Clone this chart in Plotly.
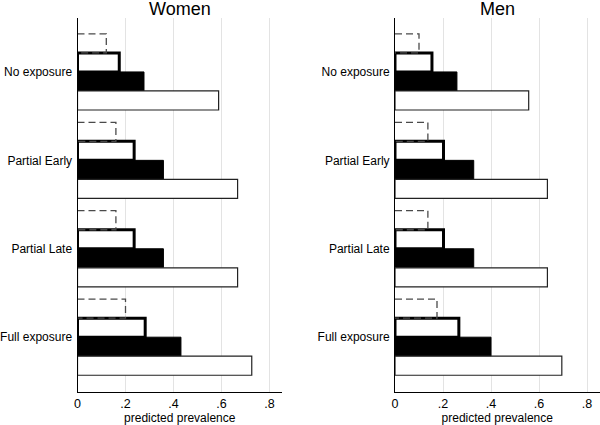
import plotly.graph_objects as go

categories = ["No exposure", "Partial Early", "Partial Late", "Full exposure"]

women_dashed = [0.12, 0.16, 0.16, 0.20]
women_thick = [0.174, 0.236, 0.236, 0.282]
women_black = [0.277, 0.358, 0.358, 0.431]
women_thin = [0.588, 0.667, 0.667, 0.726]

men_dashed = [0.10, 0.137, 0.137, 0.175]
men_thick = [0.154, 0.202, 0.202, 0.266]
men_black = [0.258, 0.328, 0.328, 0.40]
men_thin = [0.557, 0.635, 0.635, 0.695]

tick_vals = [0, 0.2, 0.4, 0.6, 0.8]
tick_text = ["0", ".2", ".4", ".6", ".8"]

FONT = "Liberation Sans, Arial, Helvetica, sans-serif"
ypos = list(range(len(categories)))
BAR_W = 0.2153
GROUP_OFF = -2 * BAR_W
X_RANGE = [0, 0.852]

fig = go.Figure()


def add_panel(dashed, thick, black, thin, xa, ya):
    # dashed outline bar (slot 0), drawn as rectangle outlines built from data
    xs, ys = [], []
    for i, v in zip(ypos, dashed):
        t = i + GROUP_OFF
        b = i + GROUP_OFF + BAR_W
        xs += [0, v, v, 0, None]
        ys += [t, t, b, b, None]
    fig.add_trace(go.Scatter(x=xs, y=ys, mode="lines", xaxis=xa, yaxis=ya,
                             line=dict(color="#4a4a4a", width=1.3, dash="7px,4px"),
                             showlegend=False, hoverinfo="skip"))
    # thick outlined white bar (slot 1)
    fig.add_trace(go.Bar(x=thick, y=ypos, orientation="h", xaxis=xa, yaxis=ya,
                         width=BAR_W, offset=GROUP_OFF + BAR_W,
                         marker=dict(color="white", line=dict(color="black", width=3)),
                         showlegend=False))
    # solid black bar (slot 2)
    fig.add_trace(go.Bar(x=black, y=ypos, orientation="h", xaxis=xa, yaxis=ya,
                         width=BAR_W, offset=GROUP_OFF + 2 * BAR_W,
                         marker=dict(color="black", line=dict(color="black", width=1)),
                         showlegend=False))
    # thin outlined white bar (slot 3)
    fig.add_trace(go.Bar(x=thin, y=ypos, orientation="h", xaxis=xa, yaxis=ya,
                         width=BAR_W, offset=GROUP_OFF + 3 * BAR_W,
                         marker=dict(color="white", line=dict(color="#222222", width=1.2)),
                         showlegend=False))


add_panel(women_dashed, women_thick, women_black, women_thin, "x", "y")
add_panel(men_dashed, men_thick, men_black, men_thin, "x2", "y2")

xcommon = dict(range=X_RANGE, tickvals=tick_vals, ticktext=tick_text,
               showgrid=True, gridcolor="#e3e3e3", gridwidth=1, zeroline=False,
               showline=True, linecolor="black", linewidth=1,
               ticks="", ticklabelstandoff=0,
               tickfont=dict(size=12.5, color="black", family=FONT),
               title=dict(text="predicted prevalence", font=dict(size=12, color="black", family=FONT),
                          standoff=4),
               automargin=False, fixedrange=True)
# tick-mark-only overlay axes
xticks_only = dict(range=X_RANGE, tickvals=tick_vals, showticklabels=False,
                   showgrid=False, zeroline=False, showline=False,
                   ticks="outside", ticklen=4, tickcolor="black", tickwidth=1,
                   automargin=False, fixedrange=True)
ycommon = dict(range=[3.62, -0.61], tickvals=ypos, ticktext=categories,
               showgrid=False, zeroline=False, showline=True, linecolor="black",
               linewidth=1, ticks="", ticklabelstandoff=2,
               tickfont=dict(size=12, color="black", family=FONT),
               automargin=False, fixedrange=True, domain=[0, 1])

W_DOM = [77.5 / 600, 282 / 600]
M_DOM = [395 / 600, 599.5 / 600]

fig.update_layout(
    width=600, height=425,
    margin=dict(l=0, r=0, t=18, b=33),
    paper_bgcolor="white", plot_bgcolor="white",
    barmode="overlay",
    font=dict(family=FONT, color="black"),
    xaxis=dict(domain=W_DOM, anchor="y", **xcommon),
    yaxis=dict(anchor="x", **ycommon),
    xaxis2=dict(domain=M_DOM, anchor="y2", **xcommon),
    yaxis2=dict(anchor="x2", **ycommon),
    xaxis3=dict(domain=W_DOM, anchor="y", overlaying="x", side="bottom", **xticks_only),
    xaxis4=dict(domain=M_DOM, anchor="y2", overlaying="x2", side="bottom", **xticks_only),
    annotations=[
        dict(text="Women", x=(77.5 + 282) / 2 / 600, y=1, xref="paper", yref="paper",
             xanchor="center", yanchor="bottom", showarrow=False, yshift=-3,
             font=dict(size=18, color="black", family=FONT)),
        dict(text="Men", x=(395 + 599.5) / 2 / 600, y=1, xref="paper", yref="paper",
             xanchor="center", yanchor="bottom", showarrow=False, yshift=-3,
             font=dict(size=18, color="black", family=FONT)),
    ],
)

fig.write_html("out.html", config={"displayModeBar": False},
               post_script="document.body.style.margin='0';document.body.style.padding='0';")
